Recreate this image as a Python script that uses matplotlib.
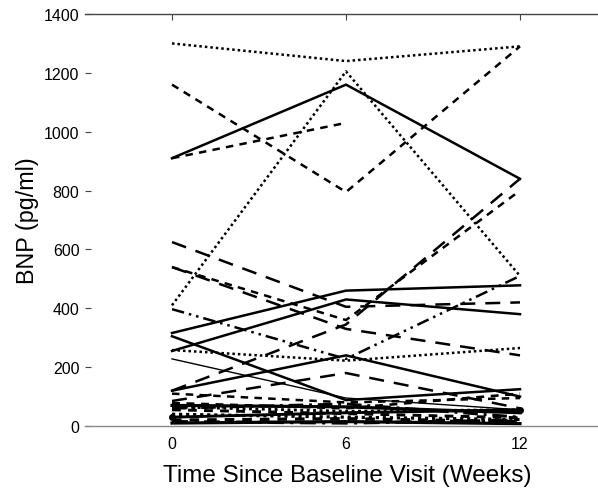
import numpy as np
import matplotlib
matplotlib.use("Agg")
import matplotlib.pyplot as plt

plt.rcParams['font.family'] = ['Liberation Sans', 'DejaVu Sans']

weeks = [0, 6, 12]
nan = np.nan

# BNP values (pg/ml) at weeks 0, 6, 12 for each patient
s01 = [1300, 1240, 1290]
s02 = [1160, 795, 1290]
s03 = [910, 1160, 840]
s04 = [910, 1030, nan]
s05 = [410, 1205, 510]
s06 = [625, 405, 420]
s07 = [540, 330, 240]
s08 = [540, 360, 800]
s09 = [120, 345, 840]
s10 = [397, 228, 510]
s11 = [316, 460, 478]
s12 = [255, 430, 380]
s13 = [305, 88, 125]
s14 = [120, 240, 100]
s15 = [258, 222, 265]
s16 = [228, 95, 55]
s17 = [85, 180, 60]
s18 = [110, 80, 95]
s19 = [78, 60, 110]
s20 = [70, 65, 45]
s21 = [65, 50, 55]
s22 = [60, 75, 30]
s23 = [30, 45, 55]
s24 = [20, 25, 15]
s25 = [15, 10, 20]
s26 = [40, 30, 22]
s27 = [55, 42, 28]
s28 = [10, 15, 8]

series = [s01, s02, s03, s04, s05, s06, s07, s08, s09, s10, s11, s12, s13, s14,
          s15, s16, s17, s18, s19, s20, s21, s22, s23, s24, s25, s26, s27, s28]

DOT = (0, (1, 1.2))
DASH = (0, (3, 2.5))
LDASH = (0, (6, 4))
DDOT = (0, (5, 2, 1, 2))
DDDOT = (0, (5, 2, 1, 2, 1, 2))
SOLID = '-'

styles = [DOT, DASH, SOLID, DASH, DOT, LDASH, LDASH, DASH, LDASH, DDDOT,
          SOLID, SOLID, SOLID, SOLID, DOT, SOLID, LDASH, DASH, DASH, SOLID,
          DOT, DDOT, SOLID, DASH, DDOT, DOT, DASH, SOLID]
widths = [1.8, 1.8, 1.8, 1.8, 1.8, 1.8, 1.8, 1.8, 1.8, 1.8,
          1.8, 1.8, 1.8, 1.8, 1.8, 1.0, 1.8, 1.8, 1.9, 2.3,
          2.1, 2.1, 2.1, 2.3, 2.3, 2.3, 2.1, 2.3]

fig = plt.figure(figsize=(5.98, 4.89), dpi=100)
ax = fig.add_axes([85/598, 62/489, 522/598, 412/489])

for s, ls, lw in zip(series, styles, widths):
    ax.plot(weeks, s, color='black', linestyle=ls, linewidth=lw)

ax.plot([0], [s23[0]], 'o', color='black', markersize=4)
ax.plot([12], [s23[2]], 'o', color='black', markersize=4)

ax.set_xlim(-3, 15)
ax.set_ylim(0, 1400)
ax.set_xticks([0, 6, 12])
ax.set_yticks(range(0, 1401, 200))

for sp in ['left', 'right']:
    ax.spines[sp].set_visible(False)
ax.spines['top'].set_color('#444444')
ax.spines['bottom'].set_color('#888888')
ax.spines['top'].set_linewidth(1.0)
ax.spines['bottom'].set_linewidth(1.0)

ax.tick_params(axis='y', direction='in', length=4, width=0.8, color='#444444',
               labelsize=11.5, pad=4)
ax.tick_params(axis='x', direction='in', length=4, width=0.8, color='#444444',
               top=True, bottom=False, labelsize=11.5, pad=7)

ax.set_ylabel('BNP (pg/ml)', fontsize=16.8)
ax.yaxis.set_label_coords(-(85 - 39) / 522, (427 - 221) / 412)
ax.set_xlabel('Time Since Baseline Visit (Weeks)', fontsize=17.5)
ax.xaxis.set_label_coords((347 - 85) / 522, -(465 - 427) / 412)

fig.savefig('out.png', dpi=100)
